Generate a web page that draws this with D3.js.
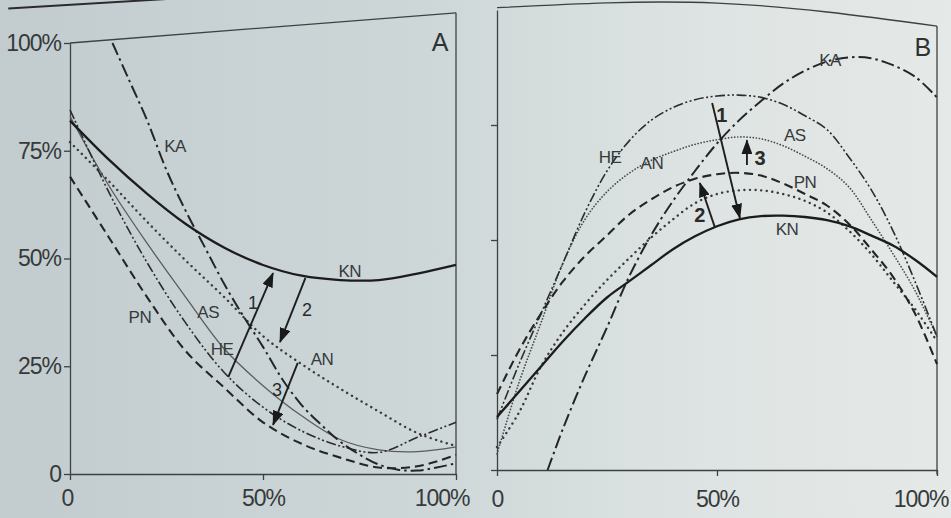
<!DOCTYPE html>
<html><head><meta charset="utf-8">
<script src="https://cdn.jsdelivr.net/npm/d3@7"></script>
<style>html,body{margin:0;padding:0;background:#d4dbdb;}svg{display:block}</style>
</head><body><svg id="c" width="951" height="518"></svg>
<script>
// ---------- DATA ----------
// Panel A (x in %, y in %)
const aX   = [0,10,20,30,40,50,60,70,80,90,100];
const aKN  = [82,73,65,58,52.5,48.5,46,45,45,46.5,48.5];
const aAS  = [83,67,53.5,41,29,20.5,13.5,8,5.6,5.2,6.3];
const aHE  = [84.5,65.5,49,35,23.5,15.5,10,6.5,5,8.5,12];
const aPN  = [69,55,41,28.5,20,12,7,3.8,1.5,1.8,4.4];
const aAN  = [77,68,58.5,49.5,41,32,25.5,19.8,14.5,9.5,6.5];
const aKAx = [11,15,20,25,30,35,40,45,50,55,60,65,70,75,80,85,90,95,100];
const aKAy = [100,92,82,70.5,61,52.5,44,36.5,29.5,22,16,11.5,7.5,4.5,2.2,1,0.8,1.5,2.5];

// Panel B
const bX   = [0,5,10,15,20,25,30,35,40,45,50,55,60,65,70,75,80,85,90,95,100];
const bKN  = [11.5,17,22.5,28,33,37.5,41,44.5,48,50.8,53,54.5,55.2,55.3,55,54.3,53,51,48.8,45.7,42];
const bHE  = [11,23,34,45,56,65,71.5,76,78.8,80.5,81.3,81.5,81,79.5,77,74,68,61,52,41,29];
const bAS  = [3.5,19,32,45,54.5,60.5,64.5,67.3,69.2,70.8,71.8,72.4,72,70.5,68.2,65.5,61.5,54.5,47,39,29];
const bAN  = [5,12.5,22.5,30,36,41.3,46,50.5,54.5,58,60,60.8,60.8,60,58.5,56,52,47,41,35,28];
const bPN  = [16.5,26,34,41,46.5,51,55.5,58.8,61.5,63.3,64.3,64.6,64,62.3,60,57.5,53.5,48,42,34,23];
const bKAx = [11.5,15,20,25,30,35,40,45,50,55,60,65,70,75,80,85,90,95,100];
const bKAy = [0,9,20.5,31,42,51,58.5,65,71,76,80.2,84,86.8,88.8,89.7,89.5,88,85.5,81];

// Ticks
const yTickValues = [0,25,50,75,100];
const yTickLabels = ["0","25%","50%","75%","100%"];
const bYTickValues = [0,25,50,75];
const xTickValues = [0,50,100];
const xTickLabels = ["0","50%","100%"];

// Curve labels
const aLabelText = ["KA","KN","PN","AS","HE","AN"];
const aLabelX    = [27.2,72.5,18.1,35.8,39.4,65.3];
const aLabelY    = [75.9,46.9,36.2,37.4,28.8,26.5];
const bLabelText = ["KA","HE","AN","AS","PN","KN"];
const bLabelX    = [75.7,25.7,35.2,67.7,70,65.9];
const bLabelY    = [89.1,68,66.7,72.8,62.6,52.2];

// Arrows (from -> to) and their numbers
const arrowNames = ["1","2","3"];
const aArrowFrom = [[41,22.5],[61,45.5],[59,25.8]];
const aArrowTo   = [[52.6,46.6],[54.4,30.6],[52.6,11.4]];
const aNumPos    = [[47.4,39.7],[61.4,38],[53.6,19.5]];
const bArrowFrom = [[48.9,79.8],[49.5,52.8],[56.8,66.3]];
const bArrowTo   = [[55.2,54.8],[46.1,62.4],[56.8,71.7]];
const bNumPos    = [[51.1,77.2],[46.1,55.4],[59.8,67.8]];

// ---------- DRAW ----------
const W=951,H=518;
const font="'Liberation Sans', Arial, Helvetica, sans-serif";
const ink="#363a3b";
const svg=d3.select("#c");
const defs=svg.append("defs");
const grad=defs.append("linearGradient").attr("id","bg").attr("x1",0).attr("x2",1).attr("y1",0).attr("y2",0);
[[0,"#c2cccf"],[0.45,"#ced7d8"],[0.75,"#dee4e3"],[1,"#e5e9e7"]].forEach(s=>grad.append("stop").attr("offset",s[0]).attr("stop-color",s[1]));
svg.append("rect").attr("width",W).attr("height",H).attr("fill","url(#bg)");

defs.append("marker").attr("id","ah").attr("markerUnits","userSpaceOnUse")
  .attr("viewBox","0 0 15 11").attr("markerWidth",15).attr("markerHeight",11).attr("refX",14).attr("refY",5.5)
  .attr("orient","auto").append("path").attr("d","M0,0L15,5.5L0,11Z").attr("fill","#1a1a1a");

const xA=d3.scaleLinear([0,100],[70,456]);
const yA=d3.scaleLinear([0,100],[474,43]);
const xB=d3.scaleLinear([0,100],[497,937]);
const yB=d3.scaleLinear([0,100],[470,10]);

const styles={
  KN:{c:"#1c1c1c",w:2.3,d:null},
  KA:{c:"#252525",w:2,d:"13,4,2.5,4"},
  PN:{c:"#252525",w:2.1,d:"9,5"},
  HE:{c:"#2c2c2c",w:1.6,d:"10,2.5,2,2.5,2,2.5"},
  AN:{c:"#3a3a3a",w:2.4,d:"0.1,5.5",cap:"round"},
  ASa:{c:"#5c5c5c",w:1.3,d:null},
  ASb:{c:"#4a4a4a",w:1.7,d:"0.1,3",cap:"round"}
};

function drawSeries(g,x,y,xs,ys,st){
  const line=d3.line().x(d=>x(d[0])).y(d=>y(d[1])).curve(d3.curveCatmullRom.alpha(0.5));
  g.append("path").datum(d3.zip(xs,ys)).attr("d",line).attr("fill","none")
   .attr("stroke",st.c).attr("stroke-width",st.w)
   .attr("stroke-dasharray",st.d).attr("stroke-linecap",st.cap||"butt");
}
function styleAxis(ax,fs){
  ax.selectAll("path,line").attr("stroke","#3e4142").attr("stroke-width",1.3);
  ax.selectAll("text").attr("font-family",font).attr("font-size",fs).attr("letter-spacing","-1px").attr("fill",ink);
}
function drawLabels(g,x,y,txt,lx,ly){
  g.selectAll(null).data(txt).join("text")
   .attr("x",(d,i)=>x(lx[i])).attr("y",(d,i)=>y(ly[i]))
   .attr("text-anchor","middle").attr("dominant-baseline","central")
   .attr("font-family",font).attr("font-size",17).attr("letter-spacing","-0.5px").attr("fill",ink).text(d=>d);
}
function drawArrows(g,x,y,from,to,nums,bold){
  g.selectAll(null).data(from).join("line")
   .attr("x1",d=>x(d[0])).attr("y1",d=>y(d[1]))
   .attr("x2",(d,i)=>x(to[i][0])).attr("y2",(d,i)=>y(to[i][1]))
   .attr("stroke","#1e1e1e").attr("stroke-width",1.9).attr("marker-end","url(#ah)");
  g.selectAll(null).data(arrowNames).join("text")
   .attr("x",(d,i)=>x(nums[i][0])).attr("y",(d,i)=>y(nums[i][1]))
   .attr("text-anchor","middle").attr("dominant-baseline","central")
   .attr("font-family",font).attr("font-size",bold?20:18).attr("font-weight",bold?"bold":"normal")
   .attr("fill","#2a2a2a").text(d=>d);
}

// ----- Panel A -----
const gA=svg.append("g");
gA.append("line").attr("x1",xA(-16)).attr("y1",yA(108)).attr("x2",xA(25)).attr("y2",yA(110.2))
  .attr("stroke","#2b2b2b").attr("stroke-width",2);
gA.append("line").attr("x1",xA(0)).attr("y1",yA(100)).attr("x2",xA(100)).attr("y2",yA(107))
  .attr("stroke","#3e4142").attr("stroke-width",1.3);
gA.append("line").attr("x1",xA(100)).attr("y1",yA(0)).attr("x2",xA(100)).attr("y2",yA(107))
  .attr("stroke","#3e4142").attr("stroke-width",1.3);
const axAy=gA.append("g").attr("transform",`translate(${xA(0)},0)`)
  .call(d3.axisLeft(yA).tickValues(yTickValues).tickFormat((d,i)=>yTickLabels[i]).tickSize(6).tickSizeOuter(0).tickPadding(3));
styleAxis(axAy,23);
const axAx=gA.append("g").attr("transform",`translate(0,${yA(0)})`)
  .call(d3.axisBottom(xA).tickValues(xTickValues).tickFormat((d,i)=>xTickLabels[i]).tickSize(6).tickSizeOuter(0).tickPadding(10));
styleAxis(axAx,23);
axAx.selectAll(".tick text").filter(d=>d===100).attr("text-anchor","end").attr("x",13);
axAx.selectAll(".tick text").filter(d=>d===0).attr("x",-3);

drawSeries(gA,xA,yA,aX,aPN,styles.PN);
drawSeries(gA,xA,yA,aX,aAN,styles.AN);
drawSeries(gA,xA,yA,aX,aAS,styles.ASa);
drawSeries(gA,xA,yA,aX,aHE,styles.HE);
drawSeries(gA,xA,yA,aKAx,aKAy,styles.KA);
drawSeries(gA,xA,yA,aX,aKN,styles.KN);
drawLabels(gA,xA,yA,aLabelText,aLabelX,aLabelY);
drawArrows(gA,xA,yA,aArrowFrom,aArrowTo,aNumPos,false);
gA.append("text").attr("x",xA(95.9)).attr("y",yA(100.2)).attr("text-anchor","middle").attr("dominant-baseline","central")
  .attr("font-family",font).attr("font-size",25).attr("fill","#2f3233").text("A");

// ----- Panel B -----
const gB=svg.append("g");
const topLine=d3.line().x(d=>xB(d[0])).y(d=>yB(d[1])).curve(d3.curveNatural);
gB.append("path").datum([[0,100.5],[50,101.5],[100,96.5]]).attr("d",topLine).attr("fill","none")
  .attr("stroke","#3e4142").attr("stroke-width",1.3);
gB.append("line").attr("x1",xB(100)).attr("y1",yB(-1)).attr("x2",xB(100)).attr("y2",yB(96.5))
  .attr("stroke","#3e4142").attr("stroke-width",1.3);
const axBy=gB.append("g").attr("transform",`translate(${xB(0)},0)`)
  .call(d3.axisLeft(yB).tickValues(bYTickValues).tickFormat("").tickSize(6).tickSizeOuter(0));
styleAxis(axBy,23);
const axBx=gB.append("g").attr("transform",`translate(0,${yB(0)})`)
  .call(d3.axisBottom(xB).tickValues(xTickValues).tickFormat((d,i)=>xTickLabels[i]).tickSize(6).tickSizeOuter(0).tickPadding(15));
styleAxis(axBx,23);
axBx.selectAll(".tick text").filter(d=>d===100).attr("text-anchor","end").attr("x",11);

drawSeries(gB,xB,yB,bX,bAN,styles.AN);
drawSeries(gB,xB,yB,bX,bAS,styles.ASb);
drawSeries(gB,xB,yB,bX,bPN,styles.PN);
drawSeries(gB,xB,yB,bX,bHE,styles.HE);
drawSeries(gB,xB,yB,bKAx,bKAy,styles.KA);
drawSeries(gB,xB,yB,bX,bKN,styles.KN);
drawLabels(gB,xB,yB,bLabelText,bLabelX,bLabelY);
drawArrows(gB,xB,yB,bArrowFrom,bArrowTo,bNumPos,true);
gB.append("text").attr("x",xB(96.8)).attr("y",yB(92)).attr("text-anchor","middle").attr("dominant-baseline","central")
  .attr("font-family",font).attr("font-size",25).attr("fill","#2f3233").text("B");
</script></body></html>
